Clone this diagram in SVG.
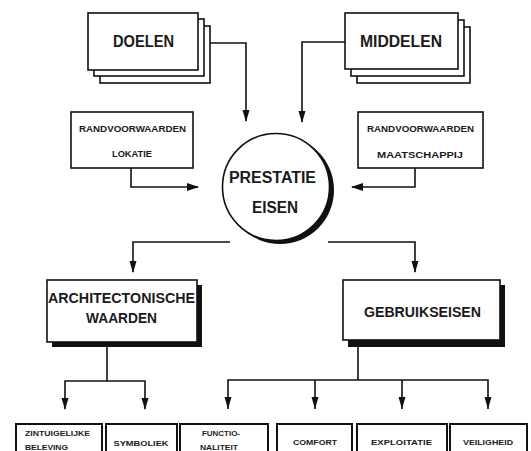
<svg xmlns="http://www.w3.org/2000/svg" width="531" height="451" viewBox="0 0 531 451">
  <style>
    .box { fill: #ffffff; stroke: #111111; stroke-width: 1.6; }
    .thick { fill: #ffffff; stroke: #111111; stroke-width: 2; }
    .shadow { fill: #111111; stroke: none; }
    .wire { fill: none; stroke: #111111; stroke-width: 1.6; }
    text { font-family: "Liberation Sans", Arial, sans-serif; font-weight: bold; fill: #1a1a1a; }
    .big { font-size: 16px; }
    .mid { font-size: 14px; }
    .small { font-size: 9px; }
    .tiny { font-size: 8px; }
  </style>
  <defs>
    <marker id="arrowH" markerUnits="userSpaceOnUse" markerWidth="12" markerHeight="8" refX="11" refY="4" orient="auto" viewBox="0 0 12 8">
      <path d="M0,0 L12,4 L0,8 Z" fill="#111111"/>
    </marker>
  </defs>
  <rect width="531" height="451" fill="#ffffff"/>

  <g id="connectors">
    <!-- top inputs into the centre -->
    <polyline class="wire" points="210,43 246,43 246,121"/>
    <polyline class="wire" points="345,42 302,42 302,122"/>
    <polyline class="wire" points="131,168 131,187 198,187" marker-end="url(#arrowH)"/>
    <polyline class="wire" points="415,168 415,187 352,187" marker-end="url(#arrowH)"/>
    <!-- centre to the two groups -->
    <polyline class="wire" points="230,242 133,242 133,272"/>
    <polyline class="wire" points="328,242 415,242 415,272"/>
    <!-- architectural values -->
    <line class="wire" x1="107" y1="342" x2="107" y2="381"/>
    <polyline class="wire" points="65,409 65,381 145,381 145,409"/>
    <!-- user requirements -->
    <line class="wire" x1="358" y1="340" x2="358" y2="380"/>
    <polyline class="wire" points="228,409 228,380 488,380 488,409"/>
    <line class="wire" x1="315" y1="380" x2="315" y2="409"/>
    <line class="wire" x1="402" y1="380" x2="402" y2="409"/>
    <!-- arrow heads pointing down -->
    <g fill="#111111">
      <path d="M242.5,110 L249.5,110 L246,122 Z"/>
      <path d="M298.5,111 L305.5,111 L302,123 Z"/>
      <path d="M129.5,261 L136.5,261 L133,273 Z"/>
      <path d="M411.5,261 L418.5,261 L415,273 Z"/>
      <path d="M61.5,398 L68.5,398 L65,410 Z"/>
      <path d="M141.5,398 L148.5,398 L145,410 Z"/>
      <path d="M224.5,397 L231.5,397 L228,409 Z"/>
      <path d="M311.5,397 L318.5,397 L315,409 Z"/>
      <path d="M398.5,397 L405.5,397 L402,409 Z"/>
      <path d="M484.5,397 L491.5,397 L488,409 Z"/>
    </g>
  </g>

  <g id="doelen">
    <rect class="box" x="100" y="26" width="110" height="57"/>
    <rect class="box" x="94" y="19" width="110" height="57"/>
    <rect class="box" x="88" y="13" width="110" height="57"/>
    <text class="big" x="143.5" y="47" text-anchor="middle" textLength="61" lengthAdjust="spacingAndGlyphs">DOELEN</text>
  </g>

  <g id="middelen">
    <rect class="box" x="357" y="27" width="113" height="56"/>
    <rect class="box" x="351" y="20" width="113" height="56"/>
    <rect class="box" x="345" y="13" width="113" height="56"/>
    <text class="big" x="401" y="47" text-anchor="middle" textLength="82" lengthAdjust="spacingAndGlyphs">MIDDELEN</text>
  </g>

  <g id="randvoorwaarden-lokatie">
    <rect class="box" x="71" y="112" width="122" height="56"/>
    <text class="small" x="132.5" y="131.5" text-anchor="middle" textLength="107" lengthAdjust="spacingAndGlyphs">RANDVOORWAARDEN</text>
    <text class="small" x="132" y="156.5" text-anchor="middle" textLength="40" lengthAdjust="spacingAndGlyphs">LOKATIE</text>
  </g>

  <g id="randvoorwaarden-maatschappij">
    <rect class="box" x="358" y="112" width="125" height="56"/>
    <text class="small" x="420.5" y="132" text-anchor="middle" textLength="107" lengthAdjust="spacingAndGlyphs">RANDVOORWAARDEN</text>
    <text class="small" x="420" y="158" text-anchor="middle" textLength="86" lengthAdjust="spacingAndGlyphs">MAATSCHAPPIJ</text>
  </g>

  <g id="prestatie-eisen">
    <circle cx="280" cy="190" r="54" fill="#111111"/>
    <circle cx="276" cy="187" r="53.5" fill="#ffffff" stroke="#111111" stroke-width="1.6"/>
    <text class="big" x="272.5" y="183" text-anchor="middle" font-size="17" textLength="87" lengthAdjust="spacingAndGlyphs">PRESTATIE</text>
    <text class="big" x="275" y="213" text-anchor="middle" font-size="17" textLength="46" lengthAdjust="spacingAndGlyphs">EISEN</text>
  </g>

  <g id="architectonische-waarden">
    <rect class="shadow" x="52" y="285" width="150" height="62"/>
    <rect class="box" x="47" y="280" width="150" height="62"/>
    <text class="mid" x="121.5" y="303" text-anchor="middle" textLength="147" lengthAdjust="spacingAndGlyphs">ARCHITECTONISCHE</text>
    <text class="mid" x="121.5" y="323" text-anchor="middle" textLength="71" lengthAdjust="spacingAndGlyphs">WAARDEN</text>
  </g>

  <g id="gebruikseisen">
    <rect class="shadow" x="348" y="285" width="157" height="62"/>
    <rect class="box" x="343" y="280" width="157" height="60"/>
    <text class="mid" x="422.5" y="317" text-anchor="middle" textLength="117" lengthAdjust="spacingAndGlyphs">GEBRUIKSEISEN</text>
  </g>

  <g id="zintuigelijke-beleving">
    <rect class="thick" x="16" y="424" width="86" height="40"/>
    <text class="tiny" x="25" y="436" textLength="65" lengthAdjust="spacingAndGlyphs">ZINTUIGELIJKE</text>
    <text class="tiny" x="25" y="450" textLength="43" lengthAdjust="spacingAndGlyphs">BELEVING</text>
  </g>

  <g id="symboliek">
    <rect class="thick" x="106" y="424" width="71" height="40"/>
    <text class="tiny" x="141" y="446" text-anchor="middle" textLength="55" lengthAdjust="spacingAndGlyphs">SYMBOLIEK</text>
  </g>

  <g id="functionaliteit">
    <rect class="thick" x="180" y="424" width="88" height="40"/>
    <text class="tiny" x="202" y="436" textLength="38" lengthAdjust="spacingAndGlyphs">FUNCTIO-</text>
    <text class="tiny" x="200" y="450" textLength="38" lengthAdjust="spacingAndGlyphs">NALITEIT</text>
  </g>

  <g id="comfort">
    <rect class="thick" x="277" y="424" width="75" height="40"/>
    <text class="tiny" x="315" y="445" text-anchor="middle" textLength="44" lengthAdjust="spacingAndGlyphs">COMFORT</text>
  </g>

  <g id="exploitatie">
    <rect class="thick" x="357" y="424" width="90" height="40"/>
    <text class="tiny" x="401.5" y="445" text-anchor="middle" textLength="61" lengthAdjust="spacingAndGlyphs">EXPLOITATIE</text>
  </g>

  <g id="veiligheid">
    <rect class="thick" x="450" y="424" width="77" height="40"/>
    <text class="tiny" x="488" y="445" text-anchor="middle" textLength="50" lengthAdjust="spacingAndGlyphs">VEILIGHEID</text>
  </g>
</svg>
